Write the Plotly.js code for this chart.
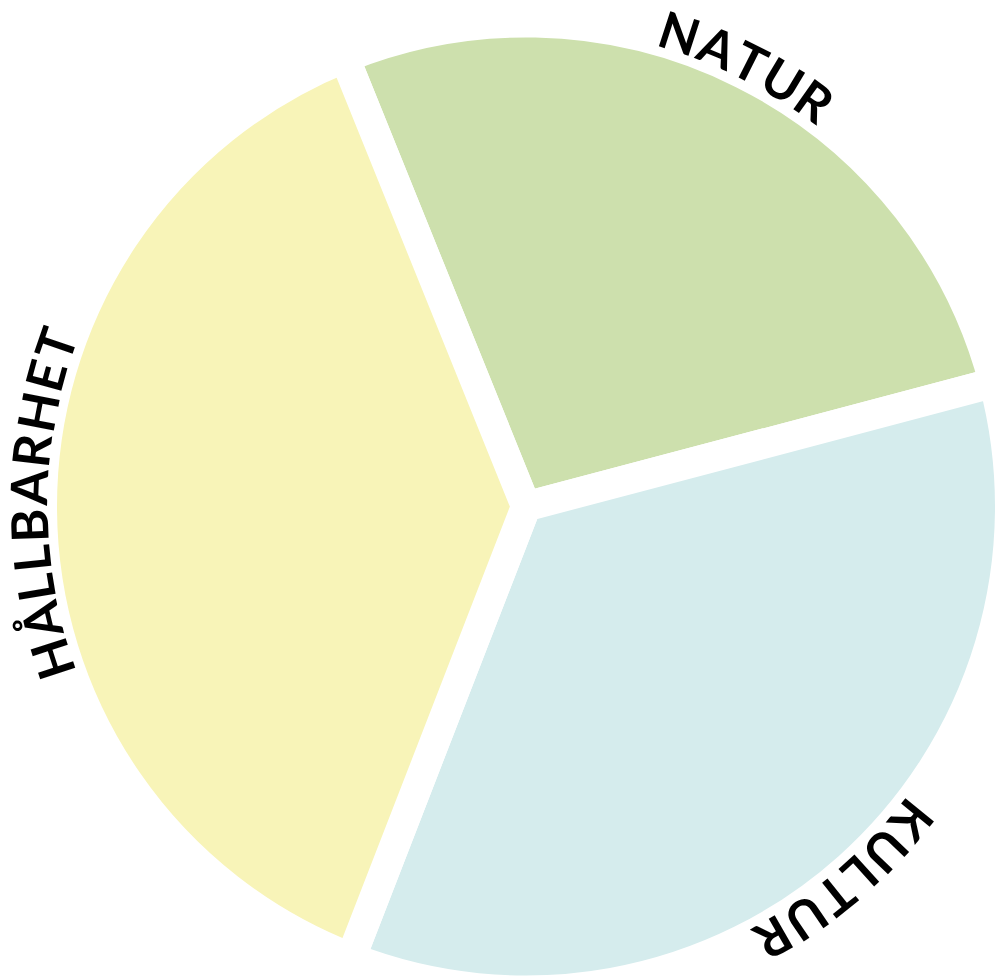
<!DOCTYPE html>
<html>
<head>
<meta charset="utf-8">
<script src="https://cdn.plot.ly/plotly-3.0.1.min.js"></script>
<style>
html,body{margin:0;padding:0;background:#fff;overflow:hidden;}
#chart{width:1020px;height:1000px;}
</style>
</head>
<body>
<div id="chart"></div>
<script>
// ---- data ----
const categories = ['NATUR', 'KULTUR', 'HÅLLBARHET'];
const values = [27, 35, 38];
const colors = ['#cde0ad', '#d5eced', '#f8f4b8'];
const labelMidAngles = [26.5, 139.6, 270.3]; // degrees clockwise from 12 o'clock

// ---- geometry ----
const W = 1020, H = 1000;
const cx = 526, cy = 506.5, r = 484;
const labelR = 498;
const fontFamily = 'Lato, "Open Sans", sans-serif';
const fontSize = 51;
const fontWeight = 'bold';
const tracking = 3;

const ctx = document.createElement('canvas').getContext('2d');
ctx.font = 'bold ' + fontSize + 'px Lato';

const annotations = [];
categories.forEach((label, i) => {
  const chars = Array.from(label);
  const widths = chars.map(c => ctx.measureText(c).width);
  const total = widths.reduce((a, b) => a + b, 0) + tracking * (chars.length - 1);
  let theta0 = labelMidAngles[i] - (total / 2) / labelR * 180 / Math.PI;
  let acc = 0;
  chars.forEach((c, k) => {
    const th = theta0 + (acc + widths[k] / 2) / labelR * 180 / Math.PI;
    acc += widths[k] + tracking;
    const rad = th * Math.PI / 180;
    const px = cx + labelR * Math.sin(rad);
    const py = cy - labelR * Math.cos(rad);
    annotations.push({
      xref: 'paper', yref: 'paper',
      x: px / W, y: 1 - py / H,
      xanchor: 'center', yanchor: 'middle',
      text: c, showarrow: false, textangle: th,
      font: {family: fontFamily, size: fontSize, color: '#000000', weight: fontWeight}
    });
  });
});

const trace = {
  type: 'pie',
  labels: categories,
  values: values,
  sort: false,
  direction: 'clockwise',
  rotation: -22,
  marker: {colors: colors, line: {color: '#ffffff', width: 30}},
  textinfo: 'none',
  hoverinfo: 'none',
  showlegend: false,
  domain: {
    x: [(cx - r) / W, (cx + r) / W],
    y: [((H - cy) - r) / H, ((H - cy) + r) / H]
  }
};

const layout = {
  width: W, height: H,
  margin: {l: 0, r: 0, t: 0, b: 0},
  paper_bgcolor: '#ffffff',
  plot_bgcolor: '#ffffff',
  showlegend: false,
  annotations: annotations
};

Plotly.newPlot('chart', [trace], layout, {displayModeBar: false, staticPlot: true});
</script>
</body>
</html>
